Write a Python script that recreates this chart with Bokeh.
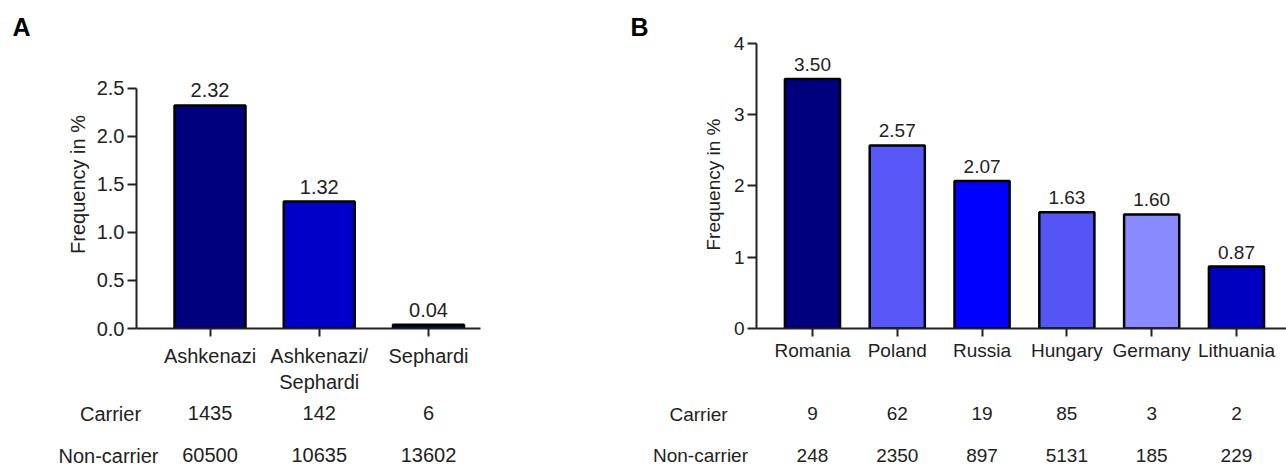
from bokeh.plotting import figure
from bokeh.models import (Range1d, LinearAxis, FixedTicker, SingleIntervalTicker,
                          ColumnDataSource, Label, Title, NumeralTickFormatter)
from bokeh.layouts import row, column
from bokeh.core.properties import value
from bokeh.embed import file_html
from bokeh.resources import INLINE

FONT = "Liberation Sans"
TXT = "#222222"

# ---------------- Panel A data ----------------
a_categories = ["Ashkenazi", "Ashkenazi/\nSephardi", "Sephardi"]
a_freq = [2.32, 1.32, 0.04]
a_carrier = [1435, 142, 6]
a_noncarrier = [60500, 10635, 13602]
a_colors = ["#00007F", "#0000C8", "#000066"]

# ---------------- Panel B data ----------------
b_categories = ["Romania", "Poland", "Russia", "Hungary", "Germany", "Lithuania"]
b_freq = [3.50, 2.57, 2.07, 1.63, 1.60, 0.87]
b_carrier = [9, 62, 19, 85, 3, 2]
b_noncarrier = [248, 2350, 897, 5131, 185, 229]
b_colors = ["#00007F", "#5757F7", "#0000FF", "#5555F5", "#8A8AFF", "#0000C0"]

row_names = ["Carrier", "Non-carrier"]

TOP_H = 395
BOT_H = 71
TOP = 40
FRAME_BOTTOM = 330
W_A, W_B = 600, 686


def make_chart(letter, cats, freq, colors, width, fs, x_start, x_end, y_end, y_top,
               y_interval, y_format, border_lr, cat_standoff, letter_offset, ylab_standoff):
    idx = list(range(len(cats)))
    p = figure(width=width, height=TOP_H, output_backend="svg", toolbar_location=None,
               x_range=Range1d(x_start, x_end), y_range=Range1d(0, y_end),
               x_axis_type=None, y_axis_type=None,
               min_border_left=border_lr[0], min_border_right=border_lr[1],
               min_border_top=TOP, min_border_bottom=TOP_H - FRAME_BOTTOM)
    p.outline_line_color = None
    p.xgrid.visible = False
    p.ygrid.visible = False

    p.add_layout(Title(text=letter, align="left", offset=letter_offset, standoff=0,
                       text_font=FONT, text_font_size="25px", text_font_style="bold",
                       text_color="black"), "above")

    src = ColumnDataSource(dict(x=idx, top=freq, color=colors,
                                lab=[f"{v:.2f}" for v in freq]))
    p.vbar(x="x", top="top", width=0.65, fill_color="color", line_color="black",
           line_width=2.5, source=src)
    p.text(x="x", y="top", text="lab", source=src, text_align="center",
           text_baseline="bottom", y_offset=-8, text_font=value(FONT),
           text_font_size=fs, text_color=TXT)

    ya = LinearAxis(ticker=SingleIntervalTicker(interval=y_interval), bounds=(0, y_top),
                    formatter=NumeralTickFormatter(format=y_format),
                    axis_label="Frequency in %")
    ya.axis_label_text_font = FONT
    ya.axis_label_text_font_size = fs
    ya.axis_label_text_font_style = "normal"
    ya.axis_label_text_color = TXT
    ya.axis_label_standoff = ylab_standoff
    ya.major_label_text_font = FONT
    ya.major_label_text_font_size = fs
    ya.major_label_text_color = TXT
    ya.major_label_standoff = 3
    ya.major_tick_in = 0
    ya.major_tick_out = 9
    ya.minor_tick_line_color = None
    ya.axis_line_width = 2
    ya.major_tick_line_width = 2
    ya.axis_line_color = "#222222"
    ya.major_tick_line_color = "#222222"
    p.add_layout(ya, "left")

    xa = LinearAxis(ticker=FixedTicker(ticks=idx),
                    major_label_overrides={i: c for i, c in zip(idx, cats)})
    xa.major_label_text_font = FONT
    xa.major_label_text_font_size = fs
    xa.major_label_text_color = TXT
    xa.major_label_standoff = cat_standoff
    xa.major_tick_in = 0
    xa.major_tick_out = 8
    xa.minor_tick_line_color = None
    xa.axis_line_width = 2
    xa.major_tick_line_width = 2
    xa.axis_line_color = "#222222"
    xa.major_tick_line_color = "#222222"
    p.add_layout(xa, "below")
    return p


pa = make_chart("A", a_categories, a_freq, a_colors, width=W_A, fs="20px",
                x_start=-0.673, x_end=2.476, y_end=2.996, y_top=2.5, y_interval=0.5,
                y_format="0.0", border_lr=(136, 120), cat_standoff=8,
                letter_offset=-124, ylab_standoff=5)
pb = make_chart("B", b_categories, b_freq, b_colors, width=W_B, fs="19px",
                x_start=-0.660, x_end=5.590, y_end=4.042, y_top=4, y_interval=1,
                y_format="0", border_lr=(156, 0), cat_standoff=3,
                letter_offset=-126, ylab_standoff=7)

# ---------------- table of carrier / non-carrier counts ----------------
t = figure(width=W_A + W_B, height=BOT_H, output_backend="svg", toolbar_location=None,
           x_range=Range1d(-1.918, 9.854), y_range=Range1d(-1.262, 0.4286),
           x_axis_type=None, y_axis_type=None,
           min_border_left=0, min_border_right=0, min_border_top=0, min_border_bottom=0)
t.extra_x_ranges = {"b": Range1d(-9.575, 5.590)}
t.outline_line_color = None
t.xgrid.visible = False
t.ygrid.visible = False

for carrier, noncarrier, fs, rng in [(a_carrier, a_noncarrier, "20px", "default"),
                                     (b_carrier, b_noncarrier, "19px", "b")]:
    n = len(carrier)
    idx = list(range(n))
    src = ColumnDataSource(dict(x=idx + idx, y=[0] * n + [-1] * n,
                                txt=[str(v) for v in carrier] + [str(v) for v in noncarrier]))
    t.text(x="x", y="y", text="txt", source=src, text_align="center",
           text_baseline="middle", text_font=value(FONT), text_font_size=fs,
           text_color=TXT, x_range_name=rng)

for name, (lx, ly), fs in [("Carrier", (110, 53), "20px"), ("Non-carrier", (108, 11), "20px"),
                           ("Carrier", (698, 52), "19px"), ("Non-carrier", (700, 11), "19px")]:
    t.add_layout(Label(x=lx, y=ly, x_units="screen", y_units="screen", text=name,
                       text_align="center", text_baseline="middle",
                       text_font=FONT, text_font_size=fs, text_color=TXT))

layout = column(row(pa, pb), t)
open("out.html", "w").write(file_html(layout, INLINE))
